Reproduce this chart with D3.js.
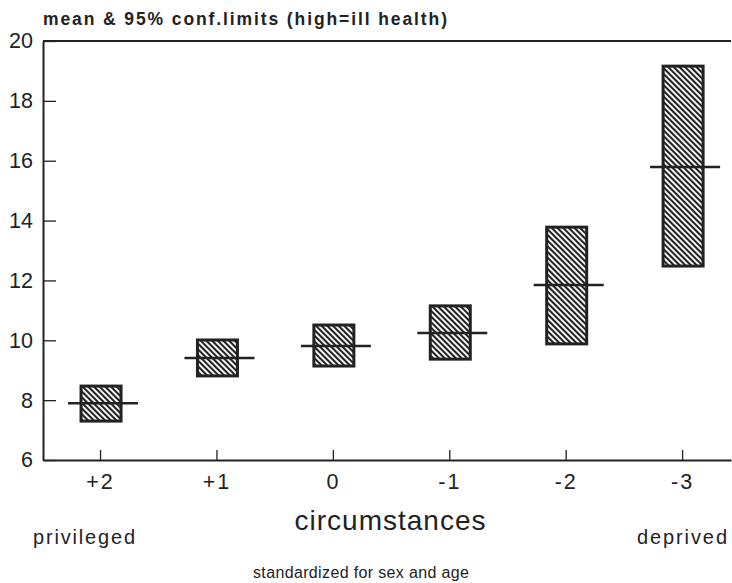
<!DOCTYPE html>
<html>
<head>
<meta charset="utf-8">
<script src="https://cdn.jsdelivr.net/npm/d3@7"></script>
<style>
  body { margin: 0; background: #fff; }
  svg { display: block; font-family: "Liberation Sans", Arial, Helvetica, sans-serif; }
</style>
</head>
<body>
<div id="chart"></div>
<script>
const width = 732;
const height = 583;

// data
const categories = ["+2", "+1", "0", "-1", "-2", "-3"];
const lower = [7.30, 8.81, 9.14, 9.37, 9.88, 12.48];
const upper = [8.47, 10.01, 10.51, 11.15, 13.78, 19.16];
const means = [7.90, 9.41, 9.81, 10.24, 11.85, 15.79];
const yTicks = [6, 8, 10, 12, 14, 16, 18, 20];

const ink = "#222";

const svg = d3.select("#chart").append("svg")
  .attr("width", width)
  .attr("height", height);

// hatch pattern
const defs = svg.append("defs");
defs.append("pattern")
  .attr("id", "hatch")
  .attr("patternUnits", "userSpaceOnUse")
  .attr("width", 4)
  .attr("height", 4)
  .attr("patternTransform", "rotate(-45)")
  .call(p => {
    p.append("rect").attr("width", 4).attr("height", 4).attr("fill", "#fff");
    p.append("line")
      .attr("x1", 1).attr("x2", 1)
      .attr("y1", 0).attr("y2", 4)
      .attr("stroke", ink).attr("stroke-width", 2.2);
  });

const x = d3.scaleLinear().domain([-0.49, 5.42]).range([43, 731]);
const y = d3.scaleLinear().domain([6, 20]).range([460, 41]);

// top frame line
svg.append("line")
  .attr("x1", x.range()[0]).attr("x2", x.range()[1])
  .attr("y1", y(20)).attr("y2", y(20))
  .attr("stroke", ink).attr("stroke-width", 2);

// y axis, ticks pointing in
const yAxis = svg.append("g")
  .attr("transform", `translate(${x.range()[0]},0)`)
  .call(d3.axisLeft(y).tickValues(yTicks).tickSize(-13).tickPadding(10).tickSizeOuter(0));

// x axis, ticks pointing up
const xAxis = svg.append("g")
  .attr("transform", `translate(0,${y(6)})`)
  .call(d3.axisBottom(x)
    .tickValues(d3.range(categories.length))
    .tickFormat(i => categories[i])
    .tickSize(-10).tickPadding(14).tickSizeOuter(0));

[yAxis, xAxis].forEach(a => {
  a.select(".domain").attr("stroke", ink).attr("stroke-width", 2);
  a.selectAll(".tick line").attr("stroke", ink).attr("stroke-width", 1.3);
  a.selectAll(".tick text")
    .attr("fill", ink)
    .attr("font-size", 21.5)
    .attr("font-family", "'Liberation Sans', Arial, sans-serif");
});
xAxis.selectAll(".tick text").style("letter-spacing", "2px");

// boxes
const boxW = 40;
const rows = categories.map((c, i) => ({ i, lo: lower[i], hi: upper[i], m: means[i] }));

svg.append("g").selectAll("rect")
  .data(rows)
  .join("rect")
  .attr("x", d => x(d.i) + 1 - boxW / 2)
  .attr("y", d => y(d.hi))
  .attr("width", boxW)
  .attr("height", d => y(d.lo) - y(d.hi))
  .attr("fill", "url(#hatch)")
  .attr("stroke", ink)
  .attr("stroke-width", 3);

// mean lines
svg.append("g").selectAll("line")
  .data(rows)
  .join("line")
  .attr("x1", d => x(d.i) + 3 - 35)
  .attr("x2", d => x(d.i) + 3 + 35)
  .attr("y1", d => y(d.m))
  .attr("y2", d => y(d.m))
  .attr("stroke", ink)
  .attr("stroke-width", 2.5);

// texts
svg.append("text")
  .attr("x", 43).attr("y", 25)
  .attr("font-size", 17.5).attr("font-weight", "bold")
  .attr("fill", ink)
  .attr("textLength", 404).attr("lengthAdjust", "spacing")
  .text("mean & 95% conf.limits (high=ill health)");

svg.append("text")
  .attr("x", 390).attr("y", 530)
  .attr("text-anchor", "middle")
  .attr("font-size", 28)
  .attr("fill", ink)
  .attr("textLength", 191).attr("lengthAdjust", "spacing")
  .text("circumstances");

svg.append("text")
  .attr("x", 33).attr("y", 544)
  .attr("font-size", 20)
  .attr("fill", ink)
  .attr("textLength", 102).attr("lengthAdjust", "spacing")
  .text("privileged");

svg.append("text")
  .attr("x", 637).attr("y", 544)
  .attr("font-size", 20)
  .attr("fill", ink)
  .attr("textLength", 90).attr("lengthAdjust", "spacing")
  .text("deprived");

svg.append("text")
  .attr("x", 361).attr("y", 578)
  .attr("text-anchor", "middle")
  .attr("font-size", 16)
  .attr("fill", ink)
  .attr("textLength", 216).attr("lengthAdjust", "spacing")
  .text("standardized for sex and age");
</script>
</body>
</html>
